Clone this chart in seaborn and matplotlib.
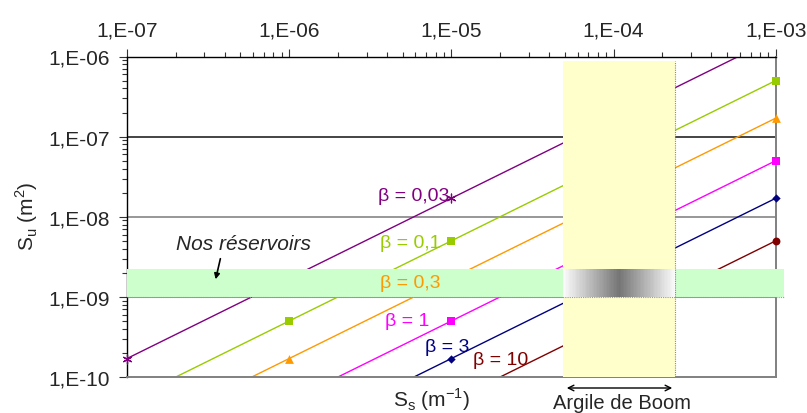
import numpy as np
import pandas as pd
import matplotlib
matplotlib.use("Agg")
import matplotlib.pyplot as plt
import seaborn as sns
from matplotlib.patches import Rectangle
from matplotlib.colors import LinearSegmentedColormap

# ---------------- data ----------------
ss_values = [1e-7, 1e-6, 1e-5, 1e-4, 1e-3]
su_beta_003 = [1.7e-10, 1.7e-9, 1.7e-8, 1.7e-7, 1.7e-6]
su_beta_01 = [5e-11, 5e-10, 5e-9, 5e-8, 5e-7]
su_beta_03 = [1.7e-11, 1.7e-10, 1.7e-9, 1.7e-8, 1.7e-7]
su_beta_1 = [5e-12, 5e-11, 5e-10, 5e-9, 5e-8]
su_beta_3 = [1.7e-12, 1.7e-11, 1.7e-10, 1.7e-9, 1.7e-8]
su_beta_10 = [5e-13, 5e-12, 5e-11, 5e-10, 5e-9]
series_labels = ["β = 0,03", "β = 0,1", "β = 0,3", "β = 1", "β = 3", "β = 10"]
x_tick_values = [1e-7, 1e-6, 1e-5, 1e-4, 1e-3]
x_tick_labels = ["1,E-07", "1,E-06", "1,E-05", "1,E-04", "1,E-03"]
y_tick_values = [1e-10, 1e-9, 1e-8, 1e-7, 1e-6]
y_tick_labels = ["1,E-10", "1,E-09", "1,E-08", "1,E-07", "1,E-06"]
reservoir_band = [1e-9, 2.24e-9]          # Su range "Nos réservoirs"
boom_band = [4.9e-5, 2.4e-4]              # Ss range "Argile de Boom"

# ---------------- style ----------------
sns.set_theme(style="white")
plt.rcParams["font.family"] = ["Liberation Sans", "DejaVu Sans"]

colors = ["#800080", "#99CC00", "#FF9900", "#FF00FF", "#000080", "#800000"]
markers = [(6, 2, 0), "s", "^", "s", "D", "o"]
msizes = [40, 32, 40, 32, 18, 32]
all_su = [su_beta_003, su_beta_01, su_beta_03, su_beta_1, su_beta_3, su_beta_10]

fig = plt.figure(figsize=(8.07, 4.14), dpi=100)
ax = fig.add_axes([127 / 807, 1 - 378 / 414, (775.7 - 127) / 807, (378 - 57.5) / 414])
ax.set_xscale("log")
ax.set_yscale("log")
ax.set_xlim(1e-7, 1e-3)
ax.set_ylim(1e-10, 1e-6)

# grid lines
for yv, c in zip([1e-9, 1e-8, 1e-7], ["#7a7a7a", "#7a7a7a", "#111111"]):
    ax.axhline(yv, color=c, lw=1.1, zorder=1.5)

for lab, su, col, mk, ms in zip(series_labels, all_su, colors, markers, msizes):
    df = pd.DataFrame({"Ss": ss_values, "Su": su})
    sns.lineplot(data=df, x="Ss", y="Su", color=col, lw=1.0, ax=ax,
                 estimator=None, sort=True, zorder=2)
    dfm = df[(df["Su"] >= 1e-10) & (df["Su"] <= 1e-6)]
    sns.scatterplot(data=dfm, x="Ss", y="Su", color=col, marker=mk, s=ms,
                    edgecolor=col, linewidth=0.9 if mk == (6, 2, 0) else 0,
                    ax=ax, clip_on=False, zorder=3.5)

# Argile de Boom band
ax.add_patch(Rectangle((boom_band[0], 1e-10), boom_band[1] - boom_band[0], 8.7e-7 - 1e-10,
                       facecolor="#FFFFCC", edgecolor="none", zorder=5))
ax.plot([boom_band[1], boom_band[1]], [1e-10, 8.7e-7], color="#888888", lw=0.8,
        ls=(0, (1, 1)), zorder=5.1)

# Nos réservoirs band
ax.add_patch(Rectangle((1e-7, reservoir_band[0]), 1.12e-3 - 1e-7,
                       reservoir_band[1] - reservoir_band[0],
                       facecolor="#CCFFCC", edgecolor="none", zorder=5, clip_on=False))
ax.plot([1e-7, 1.12e-3], [reservoir_band[0], reservoir_band[0]], color="#999999", lw=0.8,
        ls=(0, (1, 1)), zorder=5.1, clip_on=False)

# gradient at intersection
xe = np.logspace(np.log10(boom_band[0]), np.log10(boom_band[1]), 80)
ye = np.array(reservoir_band)
xc = np.linspace(0, 1, 79)
vals = 1 - np.abs(xc - 0.5) * 2
cmap = LinearSegmentedColormap.from_list("g", ["#FAFAFA", "#757575"])
ax.pcolormesh(xe, ye, vals[None, :], cmap=cmap, vmin=0, vmax=1, zorder=6, shading="flat")

# spines
for s in ["top", "left"]:
    ax.spines[s].set_color("black")
    ax.spines[s].set_linewidth(1.0)
for s in ["right", "bottom"]:
    ax.spines[s].set_color("#808080")
    ax.spines[s].set_linewidth(1.4)
for s in ax.spines.values():
    s.set_zorder(2.6)

# ticks
ax.xaxis.tick_top()
ax.set_xticks(x_tick_values)
ax.set_xticklabels(x_tick_labels)
ax.set_yticks(y_tick_values)
ax.set_yticklabels(y_tick_labels)
ax.tick_params(axis="x", which="major", direction="out", length=6, width=0.8,
               color="#333333", labelsize=15, pad=6, top=True, bottom=False)
ax.tick_params(axis="x", which="minor", direction="out", length=3.5, width=0.8,
               color="#333333", top=True, bottom=False)
ax.tick_params(axis="y", which="major", direction="out", length=6, width=0.8,
               color="#333333", labelsize=15, pad=6, left=True, right=False)
ax.tick_params(axis="y", which="minor", direction="out", length=3.5, width=0.8,
               color="#333333", left=True, right=False)
ax.xaxis.set_minor_locator(matplotlib.ticker.LogLocator(base=10, subs=np.arange(2, 10), numticks=20))
ax.yaxis.set_minor_locator(matplotlib.ticker.LogLocator(base=10, subs=np.arange(2, 10), numticks=20))
ax.xaxis.set_minor_formatter(matplotlib.ticker.NullFormatter())
ax.yaxis.set_minor_formatter(matplotlib.ticker.NullFormatter())

ax.set_xlabel("")
ax.set_ylabel("")
fig.text(432 / 807, 1 - 400 / 414, r"S$_\mathregular{s}$ (m$^\mathregular{-1}$)", fontsize=15,
         ha="center", va="center")
fig.text(27 / 807, 1 - 216 / 414, r"S$_\mathregular{u}$ (m$^\mathregular{2}$)", fontsize=15,
         ha="center", va="center", rotation=90)

# series labels (pixel positions converted to figure fraction)
lab_pos = [(378, 197), (380, 243), (380, 283), (385, 322), (425, 348), (473, 361)]
for lab, col, (px, py) in zip(series_labels, colors, lab_pos):
    fig.text(px / 807, 1 - py / 414, lab, color=col, fontsize=14, ha="left", va="center",
             zorder=10)

fig.text(244 / 807, 1 - 245 / 414, "Nos réservoirs", fontsize=15, style="italic",
         ha="center", va="center")
fig.add_artist(matplotlib.patches.FancyArrowPatch(
    (221 / 807, 1 - 257 / 414), (215 / 807, 1 - 283 / 414), transform=fig.transFigure,
    arrowstyle="-|>", mutation_scale=8, color="black", lw=1.2, zorder=10))

fig.add_artist(matplotlib.patches.FancyArrowPatch(
    (564 / 807, 1 - 389 / 414), (675 / 807, 1 - 389 / 414), transform=fig.transFigure,
    arrowstyle="<->", mutation_scale=10, color="black", lw=1.0))
fig.text(622 / 807, 1 - 403.5 / 414, "Argile de Boom", fontsize=14.5, ha="center", va="center")

fig.savefig("out.png", dpi=100)
